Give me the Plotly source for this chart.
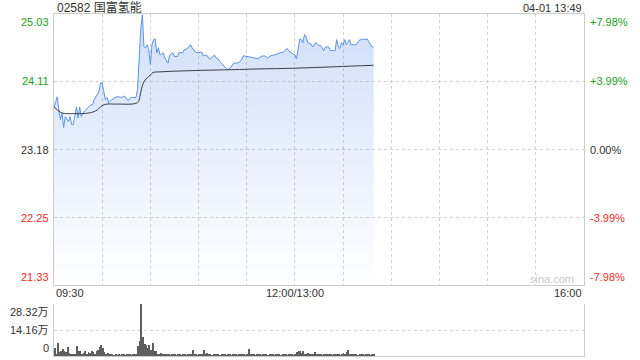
import plotly.graph_objects as go

# ---------------- data ----------------
title_text = "02582 国富氢能"
stamp_text = "04-01 13:49"
prev_close = 23.18
price_ticks = [21.33, 22.25, 23.18, 24.11, 25.03]
price_tick_labels = ["21.33", "22.25", "23.18", "24.11", "25.03"]
pct_tick_labels = ["-7.98%", "-3.99%", "0.00%", "+3.99%", "+7.98%"]
time_tick_pos = [0, 150, 330]
time_tick_labels = ["09:30", "12:00/13:00", "16:00"]
vol_ticks = [0, 14.16, 28.32]
vol_tick_labels = ["0", "14.16万", "28.32万"]

# minutes since 09:30 (lunch break removed)
price_minute = [0, 2, 3, 4, 5, 6, 7, 9, 10, 11, 12, 14, 15, 16, 17, 18, 20, 21, 23, 24,
                25, 27, 28, 29, 30, 31, 32, 33, 34, 36, 38, 40, 42, 44, 46, 48, 51, 52, 53, 54,
                55, 56, 57, 58, 59, 60, 61, 62, 63, 64, 65, 66, 68, 69, 71, 72, 74, 75, 77, 78,
                80, 81, 83, 85, 86, 88, 90, 92, 93, 95, 97, 98, 100, 101, 102, 104, 107, 108, 110, 112,
                114, 116, 118, 120, 122, 124, 126, 127, 129, 131, 133, 135, 137, 139, 141, 143, 145, 147, 148, 150,
                151, 152, 153, 154, 155, 156, 157, 158, 160, 161, 163, 165, 166, 168, 169, 171, 172, 174, 175, 176,
                177, 178, 179, 180, 181, 182, 183, 184, 185, 187, 188, 190, 192, 193, 195, 196, 197, 198, 199]
price = [23.75, 23.90, 23.72, 23.59, 23.68, 23.48, 23.63, 23.56, 23.63, 23.52, 23.52, 23.76, 23.61, 23.76, 23.63, 23.68, 23.72, 23.75, 23.79, 23.79,
         23.86, 23.93, 23.97, 24.09, 24.09, 23.97, 23.86, 23.89, 23.82, 23.86, 23.89, 23.90, 23.89, 23.91, 23.85, 23.89, 23.89, 24.00, 24.41, 24.82,
         25.02, 24.58, 24.57, 24.61, 24.54, 24.34, 24.61, 24.68, 24.69, 24.50, 24.57, 24.47, 24.50, 24.43, 24.36, 24.47, 24.50, 24.45, 24.45, 24.51,
         24.50, 24.54, 24.56, 24.61, 24.57, 24.51, 24.50, 24.51, 24.46, 24.47, 24.41, 24.43, 24.47, 24.43, 24.42, 24.36, 24.30, 24.27, 24.30, 24.36,
         24.36, 24.38, 24.46, 24.45, 24.45, 24.43, 24.43, 24.42, 24.45, 24.46, 24.43, 24.46, 24.47, 24.49, 24.50, 24.51, 24.56, 24.51, 24.50, 24.47,
         24.42, 24.54, 24.69, 24.68, 24.64, 24.75, 24.72, 24.64, 24.62, 24.58, 24.64, 24.60, 24.60, 24.53, 24.58, 24.58, 24.53, 24.53, 24.53, 24.68,
         24.58, 24.56, 24.64, 24.61, 24.68, 24.61, 24.65, 24.68, 24.61, 24.61, 24.61, 24.67, 24.69, 24.68, 24.69, 24.65, 24.61, 24.58, 24.58]

avg_minute = [0, 4, 7, 12, 18, 24, 27, 30, 33, 39, 52, 53.5, 54.6, 56.7, 59.8, 61.6, 66, 91, 111.5, 127.6, 150, 175, 199]
avg_price = [23.76, 23.69, 23.67, 23.67, 23.67, 23.69, 23.72, 23.78, 23.80, 23.80, 23.82, 23.90, 24.02, 24.13, 24.19, 24.23, 24.24, 24.26, 24.27, 24.28, 24.29, 24.31, 24.33]

# volume per minute, in 万
volume = [4.3, 1.2, 7.2, 2.1, 2.8, 4.0, 2.8, 2.1, 4.7, 1.5, 0.9, 0.6, 0.9, 0.6, 5.7, 2.8, 2.5, 0.9, 1.5, 2.5,
          1.2, 2.1, 1.5, 2.8, 2.1, 1.2, 2.5, 3.4, 4.7, 5.8, 4.3, 2.1, 1.2, 1.5, 0.9, 0.6, 0.9, 0.5, 0.6, 0.4,
          0.8, 0.5, 0.6, 0.9, 0.5, 0.7, 0.6, 0.9, 0.5, 0.8, 0.6, 1.2, 5.7, 8.0, 28.32, 10.4, 6.6, 6.2, 4.3, 6.2,
          3.0, 7.2, 2.5, 2.8, 1.2, 0.9, 1.5, 0.6, 1.2, 0.8, 0.6, 0.9, 0.5, 0.7, 0.9, 0.6, 0.5, 0.8, 0.6, 0.4,
          0.7, 0.9, 0.5, 0.6, 1.2, 0.7, 3.4, 0.6, 0.8, 0.5, 0.6, 0.9, 1.0, 3.4, 0.7, 1.5, 0.6, 0.8, 0.5, 0.9,
          0.6, 1.2, 0.7, 0.5, 0.8, 0.6, 0.9, 0.5, 0.7, 0.6, 0.4, 0.8, 0.6, 0.9, 0.5, 0.7, 1.0, 0.6, 0.8, 0.5,
          0.6, 4.0, 0.8, 0.6, 0.9, 0.5, 0.7, 0.6, 0.8, 0.5, 1.0, 0.6, 0.7, 0.5, 0.9, 0.6, 0.8, 0.5, 0.7, 0.6,
          0.9, 0.5, 0.8, 0.6, 0.7, 0.5, 0.9, 0.6, 0.8, 0.5, 1.2, 2.1, 2.8, 2.5, 1.5, 2.8, 1.2, 0.9, 1.5, 0.7,
          0.9, 0.6, 2.1, 1.2, 0.8, 0.6, 0.9, 0.5, 0.7, 0.6, 0.8, 1.2, 0.6, 0.5, 0.9, 0.7, 0.6, 0.8, 0.5, 0.9,
          1.5, 0.6, 2.1, 3.4, 1.2, 0.8, 0.6, 0.9, 0.7, 0.5, 0.8, 0.6, 0.9, 0.5, 0.7, 0.6, 0.8, 0.5, 0.9, 0.6]
vol_minute = list(range(len(volume)))

# ---------------- style ----------------
W, H = 640, 360
FONT = "Liberation Sans, Arial, Noto Sans CJK SC, sans-serif"
GREEN = "#1a9f1a"
RED = "#ef2b2b"
DARK = "#333333"
GRID = "#d2d2d2"
BORDER = "#cccccc"

px0, px1 = 54, 584
main_top, main_bot = 14, 285
vol_top, vol_bot = 304, 356

def fx(p):
    return p / W

def fy(p):
    return 1 - p / H

fig = go.Figure()

fig.add_trace(go.Scatter(
    x=price_minute, y=price, mode="lines",
    line=dict(color="#5b92ea", width=1),
    fill="tozeroy",
    fillgradient=dict(type="vertical", start=price_ticks[0], stop=price_ticks[-1],
                      colorscale=[[0, "rgba(60,120,230,0.0)"], [1, "rgba(60,120,230,0.24)"]]),
    xaxis="x", yaxis="y", hoverinfo="skip", showlegend=False))

fig.add_trace(go.Scatter(
    x=avg_minute, y=avg_price, mode="lines", line=dict(color="#3a3f4a", width=1, shape="spline"),
    xaxis="x", yaxis="y", hoverinfo="skip", showlegend=False))

fig.add_trace(go.Bar(
    x=vol_minute, y=volume, width=0.55, marker=dict(color="#5e5e5e", line=dict(width=0)),
    xaxis="x2", yaxis="y2", hoverinfo="skip", showlegend=False))

axis_common = dict(showgrid=True, gridcolor=GRID, griddash="dot", gridwidth=1,
                   zeroline=False, showticklabels=False, ticks="", fixedrange=True)

fig.update_layout(
    width=W, height=H,
    margin=dict(l=0, r=0, t=0, b=0),
    paper_bgcolor="white", plot_bgcolor="white",
    font=dict(family=FONT, size=11, color=DARK),
    bargap=0,
    xaxis=dict(domain=[fx(px0), fx(px1)], range=[0, 330], tickvals=list(range(0, 331, 30)),
               showline=True, mirror=True, linecolor=BORDER, linewidth=1, anchor="y", **axis_common),
    yaxis=dict(domain=[fy(main_bot), fy(main_top)], range=[price_ticks[0], price_ticks[-1]],
               tickvals=price_ticks[1:-1], showline=True, mirror=True, linecolor=BORDER, linewidth=1,
               anchor="x", **axis_common),
    xaxis2=dict(domain=[fx(px0), fx(px1)], range=[-0.5, 330], showgrid=False, zeroline=False,
                showticklabels=False, ticks="", showline=True, linecolor=BORDER, linewidth=1,
                anchor="y2", fixedrange=True),
    yaxis2=dict(domain=[fy(vol_bot), fy(vol_top)], range=[0, vol_ticks[-1]], tickvals=vol_ticks[1:],
                showline=True, mirror=True, linecolor=BORDER, linewidth=1, anchor="x2", **axis_common),
)

ann = []
ann.append(dict(text=title_text, xref="paper", yref="paper", x=fx(px0 + 1), y=fy(7.5),
                xanchor="left", yanchor="middle", showarrow=False, font=dict(size=12, color=DARK)))
ann.append(dict(text=stamp_text, xref="paper", yref="paper", x=fx(px1), y=fy(7.5),
                xanchor="right", yanchor="middle", showarrow=False, font=dict(size=11, color=DARK)))

for v, lab, pl in zip(price_ticks, price_tick_labels, pct_tick_labels):
    col = GREEN if v > prev_close else (RED if v < prev_close else DARK)
    ya = "top" if v == price_ticks[-1] else ("bottom" if v == price_ticks[0] else "middle")
    ann.append(dict(text=lab, xref="paper", yref="y", x=fx(px0 - 3), y=v, xanchor="right",
                    yanchor=ya, showarrow=False, font=dict(size=11, color=col)))
    ann.append(dict(text=pl, xref="paper", yref="y", x=fx(px1 + 4), y=v, xanchor="left",
                    yanchor=ya, showarrow=False, font=dict(size=11, color=col)))

for t, lab in zip(time_tick_pos, time_tick_labels):
    xa = "left" if t == time_tick_pos[0] else ("right" if t == time_tick_pos[-1] else "center")
    ann.append(dict(text=lab, xref="x", yref="paper", x=t, y=fy(293), xanchor=xa, yanchor="middle",
                    showarrow=False, font=dict(size=11, color=DARK)))

for v, lab in zip(vol_ticks, vol_tick_labels):
    ya = "top" if v == vol_ticks[-1] else ("bottom" if v == vol_ticks[0] else "middle")
    ann.append(dict(text=lab, xref="paper", yref="y2", x=fx(px0 - 3), y=v, xanchor="right",
                    yanchor=ya, showarrow=False, font=dict(size=11, color=DARK)))

ann.append(dict(text="sina.com", xref="paper", yref="paper", x=fx(552), y=fy(279),
                xanchor="center", yanchor="middle", showarrow=False,
                font=dict(size=11, color="#c8c8c8")))

fig.update_layout(annotations=ann)
fig.write_html("out.html")
